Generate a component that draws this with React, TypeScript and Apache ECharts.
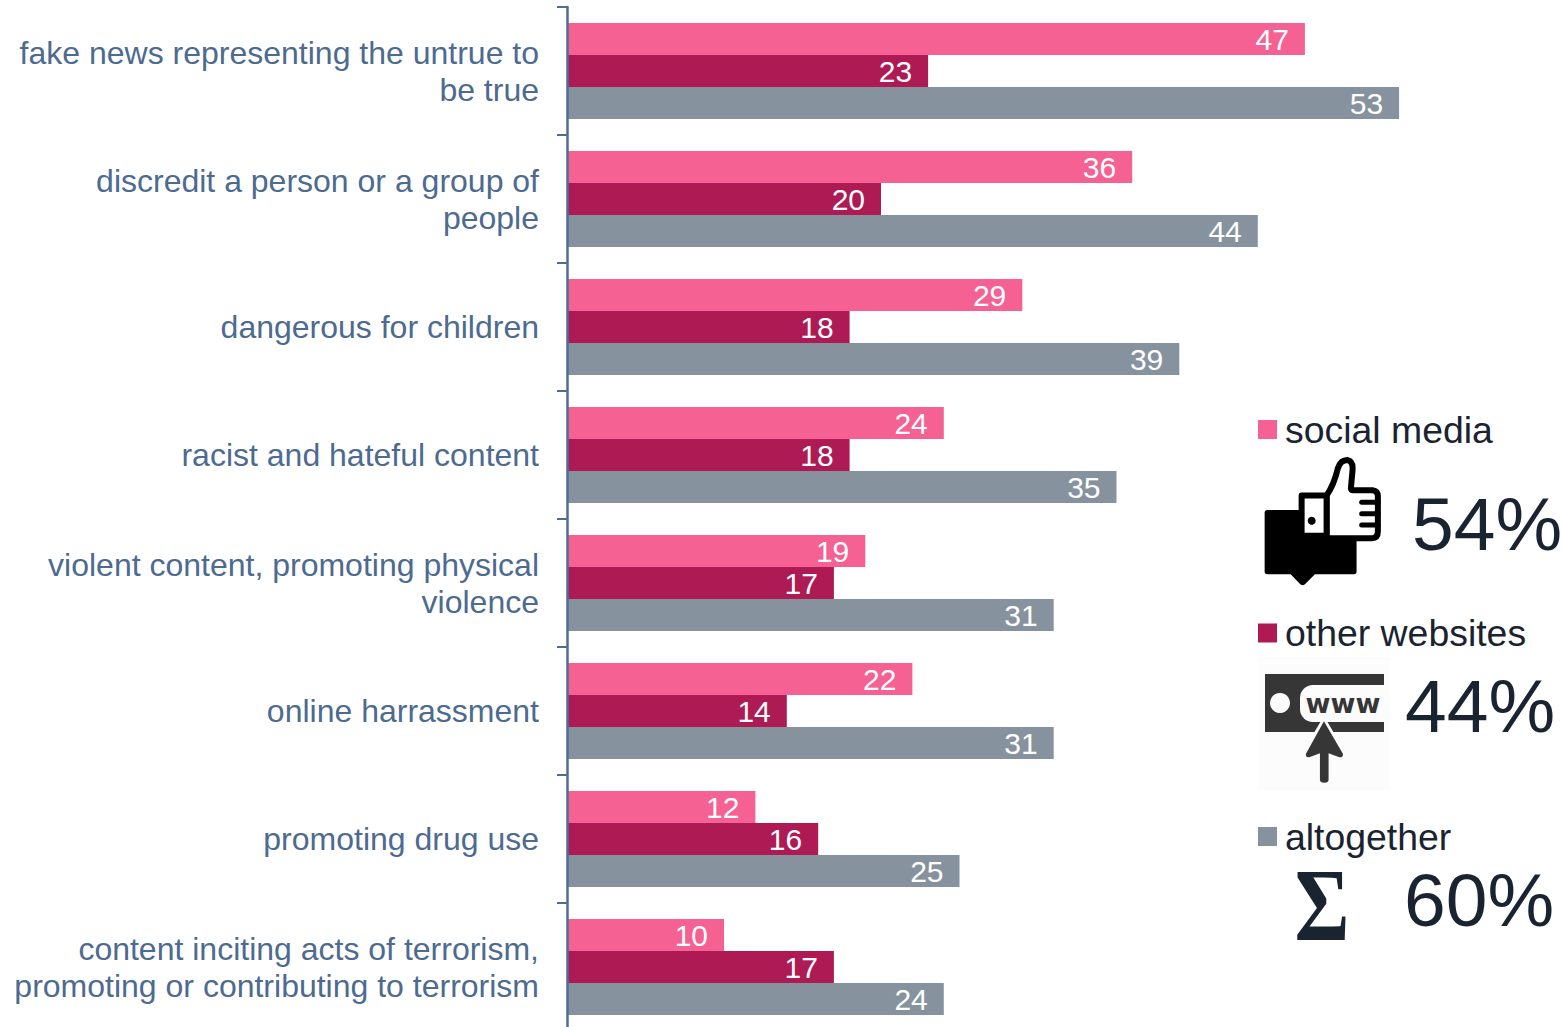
import React, { useEffect, useRef } from "react";
import * as echarts from "echarts";

const categories = [
  "fake news representing the untrue to\nbe true",
  "discredit a person or a group of\npeople",
  "dangerous for children",
  "racist and hateful content",
  "violent content, promoting physical\nviolence",
  "online harrassment",
  "promoting drug use",
  "content inciting acts of terrorism,\npromoting or contributing to terrorism",
];
const socialMedia = [47, 36, 29, 24, 19, 22, 12, 10];
const otherWebsites = [23, 20, 18, 18, 17, 14, 16, 17];
const altogether = [53, 44, 39, 35, 31, 31, 25, 24];

const seriesNames = ["social media", "other websites", "altogether"];
const seriesColors = ["#f46192", "#ae1a54", "#86939f"];
const summaryShares = ["54%", "44%", "60%"];

const SANS = '"Liberation Sans", Arial, sans-serif';
const INK = "#1a2330";
const ICON_DARK = "#363636";
const ICON_PAPER = "#fcfcfc";

// Icon outlines, in a 3x drawing space that is scaled down when placed.
const BUBBLE =
  "M52 315 L312 315 Q320 315 320 323 L320 500 Q320 508 312 508 L195 508 L165 538 Q158 544 151 538 L122 508 L52 508 Q44 508 44 500 L44 323 Q44 315 52 315 Z";
const CUFF = "M155 272 L230 272 L230 393 L155 393 Z";
const THUMB =
  "M230 272 Q252 240 264 190 Q272 165 292 165 Q310 168 308 195 L303 250 Q303 256 310 256 L368 256 Q384 258 384 274 L384 380 Q384 400 366 400 L230 400 Z";
const ARROW =
  "M222 334 L279 432 Q280 444 268 442 L236 430 L236 510 Q236 519 223 519 Q210 519 210 510 L210 430 L178 442 Q166 444 168 432 Z";
const ARROW_HALO = "M222 318 L262 386 L182 386 Z";

echarts.graphic.registerShape("bubbleIcon", echarts.graphic.extendPath(BUBBLE, {}));
echarts.graphic.registerShape("cuffIcon", echarts.graphic.extendPath(CUFF, {}));
echarts.graphic.registerShape("thumbIcon", echarts.graphic.extendPath(THUMB, {}));
echarts.graphic.registerShape("arrowIcon", echarts.graphic.extendPath(ARROW, {}));
echarts.graphic.registerShape("arrowHalo", echarts.graphic.extendPath(ARROW_HALO, {}));

function placed(type: string, x: number, y: number, style: object) {
  return { type, x, y, scaleX: 1 / 3, scaleY: 1 / 3, style };
}

function thumbsUpIcon() {
  const x = 1250;
  const y = 405;
  const finger = (yy: number) => ({
    type: "line",
    shape: { x1: x + 335 / 3, y1: y + yy / 3, x2: x + 384 / 3, y2: y + yy / 3 },
    style: { stroke: "#000", lineWidth: 5, lineCap: "round" },
  });
  return [
    placed("bubbleIcon", x, y, { fill: "#000" }),
    placed("thumbIcon", x, y, { fill: "#fff", stroke: "#000", lineWidth: 18, lineJoin: "round" }),
    placed("cuffIcon", x, y, { fill: "#fff", stroke: "#000", lineWidth: 18, lineJoin: "round" }),
    { type: "circle", shape: { cx: x + 185 / 3, cy: y + 347 / 3, r: 4 }, style: { fill: "#000" } },
    finger(292),
    finger(326),
    finger(360),
  ];
}

function websiteIcon() {
  const x = 1250;
  const y = 610;
  return [
    { type: "rect", shape: { x: 1258, y: 657, width: 132, height: 133 }, style: { fill: ICON_PAPER } },
    { type: "rect", shape: { x: 1265, y: 674, width: 119, height: 58 }, style: { fill: ICON_DARK } },
    { type: "rect", shape: { x: 1300, y: 685, width: 90, height: 37, r: [13, 0, 0, 13] }, style: { fill: ICON_PAPER } },
    { type: "circle", shape: { cx: 1280, cy: 703, r: 10 }, style: { fill: ICON_PAPER } },
    {
      type: "text",
      style: {
        x: 1343,
        y: 703,
        text: "www",
        fill: ICON_DARK,
        font: `bold 27px "DejaVu Sans", sans-serif`,
        textAlign: "center",
        textVerticalAlign: "middle",
      },
    },
    placed("arrowHalo", x, y, { fill: ICON_PAPER }),
    placed("arrowIcon", x, y, { fill: ICON_DARK }),
  ];
}

function summaryText(text: string, x: number, y: number) {
  return {
    type: "text",
    style: {
      x,
      y,
      text,
      fill: INK,
      font: `75px ${SANS}`,
      textAlign: "left",
      textVerticalAlign: "middle",
    },
  };
}

function barSeries(name: string, data: number[], color: string) {
  return {
    name,
    type: "bar",
    data,
    barGap: "0%",
    barCategoryGap: "25%",
    itemStyle: { color },
    label: {
      show: true,
      position: "insideRight",
      distance: 16,
      color: "#fff",
      fontFamily: SANS,
      fontSize: 30,
    },
  };
}

export default function App() {
  const ref = useRef<HTMLDivElement>(null);

  useEffect(() => {
    document.body.style.margin = "0";
    document.body.style.overflow = "hidden";
    const chart = echarts.init(ref.current!, undefined, { renderer: "svg" });
    chart.setOption({
      animation: false,
      backgroundColor: "#fff",
      grid: { left: 567, top: 7, width: 942, height: 1024 },
      xAxis: { type: "value", min: 0, max: 60, show: false },
      yAxis: {
        type: "category",
        inverse: true,
        z: 5,
        data: categories,
        axisLine: { show: true, lineStyle: { color: "#4f6d94", width: 2.5 } },
        axisTick: { show: true, length: 10, lineStyle: { color: "#4f6d94", width: 2 } },
        axisLabel: {
          margin: 28,
          color: "#4d6a90",
          fontFamily: SANS,
          fontSize: 32,
          lineHeight: 37,
          align: "right",
          padding: [0, 0, 2, 0],
        },
      },
      legend: {
        orient: "vertical",
        left: 1258,
        top: 411,
        padding: 0,
        icon: "rect",
        itemWidth: 19,
        itemHeight: 19,
        itemGap: 166.5,
        selectedMode: false,
        data: seriesNames,
        textStyle: { color: INK, fontFamily: SANS, fontSize: 37.4, padding: [0, 0, 0, 3] },
      },
      series: [
        barSeries(seriesNames[0], socialMedia, seriesColors[0]),
        barSeries(seriesNames[1], otherWebsites, seriesColors[1]),
        barSeries(seriesNames[2], altogether, seriesColors[2]),
      ],
      graphic: {
        elements: [
          ...thumbsUpIcon(),
          summaryText(summaryShares[0], 1412, 524),
          ...websiteIcon(),
          summaryText(summaryShares[1], 1405, 706),
          {
            type: "text",
            x: 1322,
            y: 905,
            scaleY: 1.24,
            style: {
              x: 0,
              y: 0,
              text: "Σ",
              fill: INK,
              font: `bold 84px "Liberation Serif", serif`,
              textAlign: "center",
              textVerticalAlign: "middle",
            },
          },
          summaryText(summaryShares[2], 1404, 900),
        ],
      },
    });
    return () => chart.dispose();
  }, []);

  return (
    <div style={{ width: 1563, height: 1027, overflow: "hidden" }}>
      <div ref={ref} style={{ width: 1563, height: 1040 }} />
    </div>
  );
}
